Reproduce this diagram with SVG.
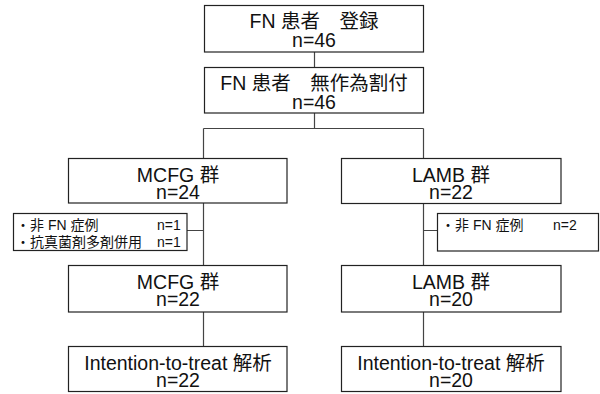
<svg xmlns="http://www.w3.org/2000/svg" width="600" height="394" viewBox="0 0 600 394">
<style>
.box{fill:#fff;stroke:#222;stroke-width:1.2}
.ln{fill:none;stroke:#444;stroke-width:1.2}
.t{font-family:"Liberation Sans","Noto Sans CJK JP",sans-serif;font-size:19.5px;fill:#111;text-anchor:middle}
.s{font-family:"Liberation Sans","Noto Sans CJK JP",sans-serif;font-size:14px;fill:#111}
</style>
<rect width="600" height="394" fill="#fff"/>
<g id="connectors">
<path class="ln" d="M314.5 52V67M314.5 113V128.5M203.5 128.5H423.5M203.5 128.5V158M423.5 128.5V158M203.5 203V265M423.5 204V265M187 230.5H203.5M423.5 230.5H437M203.5 312V346M423.5 312V346"/>
</g>
<g id="n1"><rect class="box" x="204.5" y="5.5" width="219" height="46.5"/>
<text class="t" x="314" y="28">FN 患者　登録</text><text class="t" x="314" y="47">n=46</text></g>
<g id="n2"><rect class="box" x="204.5" y="67.5" width="219" height="45.5"/>
<text class="t" x="314" y="90">FN 患者　無作為割付</text><text class="t" x="314" y="109">n=46</text></g>
<g id="n3"><rect class="box" x="68.5" y="158.5" width="218.5" height="44.5"/>
<text class="t" x="178" y="181.5">MCFG 群</text><text class="t" x="178" y="199">n=24</text></g>
<g id="n4"><rect class="box" x="341.5" y="158.5" width="219.5" height="45"/>
<text class="t" x="451" y="181.5">LAMB 群</text><text class="t" x="451" y="199">n=22</text></g>
<g id="n5"><rect class="box" x="13.5" y="213.5" width="173.5" height="37"/>
<text class="s" x="16" y="230">・非 FN 症例</text><text class="s" x="157" y="230">n=1</text>
<text class="s" x="16" y="247">・抗真菌剤多剤併用</text><text class="s" x="157" y="247">n=1</text></g>
<g id="n6"><rect class="box" x="437.5" y="213.5" width="161" height="37.5"/>
<text class="s" x="441" y="230">・非 FN 症例</text><text class="s" x="553" y="230">n=2</text></g>
<g id="n7"><rect class="box" x="68.5" y="265.5" width="218.5" height="46.5"/>
<text class="t" x="178" y="288.5">MCFG 群</text><text class="t" x="178" y="306">n=22</text></g>
<g id="n8"><rect class="box" x="341.5" y="265.5" width="219.5" height="46.5"/>
<text class="t" x="451" y="288.5">LAMB 群</text><text class="t" x="451" y="306">n=20</text></g>
<g id="n9"><rect class="box" x="68.5" y="346.5" width="218.5" height="45"/>
<text class="t" x="178" y="369.5">Intention-to-treat 解析</text><text class="t" x="178" y="387">n=22</text></g>
<g id="n10"><rect class="box" x="341.5" y="346.5" width="219.5" height="45"/>
<text class="t" x="451" y="369.5">Intention-to-treat 解析</text><text class="t" x="451" y="387">n=20</text></g>
</svg>
